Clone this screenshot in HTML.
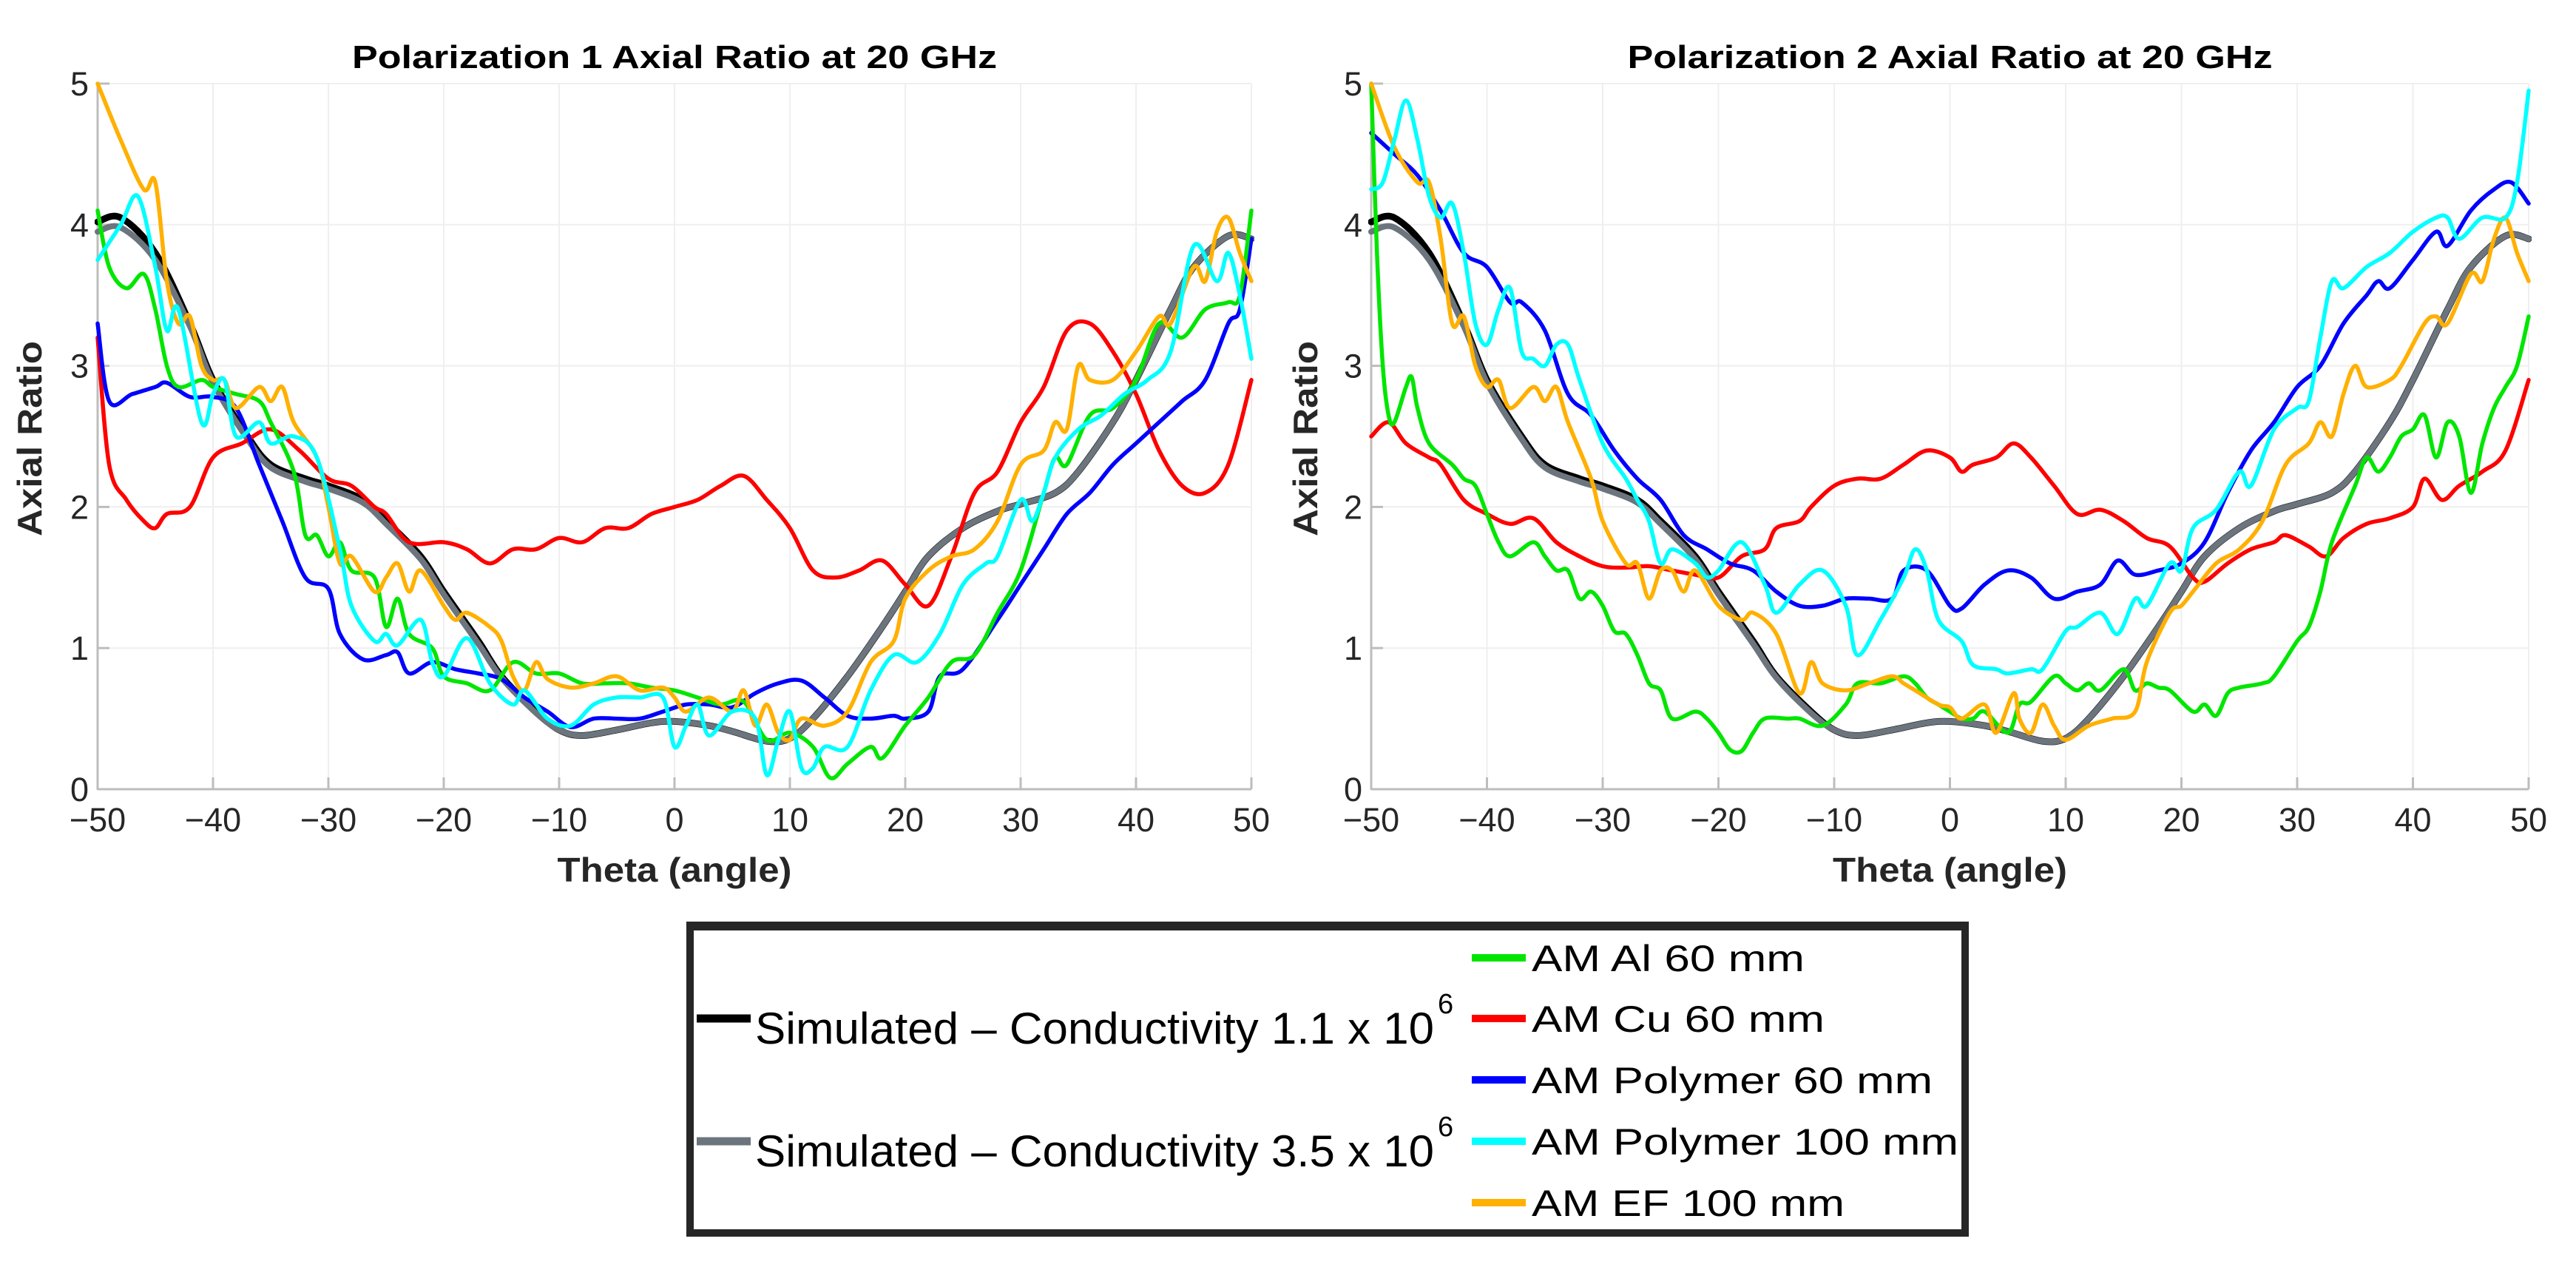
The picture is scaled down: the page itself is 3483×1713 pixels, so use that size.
<!DOCTYPE html>
<html><head><meta charset="utf-8">
<style>
html,body{margin:0;padding:0;background:#fff;}
svg{display:block;font-family:"Liberation Sans",Arial,sans-serif;}
</style></head>
<body>
<svg id="fig" width="3483" height="1713" viewBox="0 0 3483 1713" xmlns="http://www.w3.org/2000/svg">
<rect width="3483" height="1713" fill="#fff"/>
<g id="p1"></g>
<g id="p2"></g>
<g id="legend">
  <rect x="933" y="1252" width="1724" height="415" fill="#fff" stroke="#262626" stroke-width="10"/>
  <line x1="928" y1="1252" x2="2662" y2="1252" stroke="#262626" stroke-width="12"/>
  <g>
    <line x1="942" y1="1377" x2="1015" y2="1377" stroke="#000" stroke-width="11"/>
    <text x="1021" y="1411" font-size="60" fill="#000" textLength="918" lengthAdjust="spacingAndGlyphs">Simulated – Conductivity 1.1 x 10</text>
    <text x="1944" y="1370" font-size="38" fill="#000">6</text>
  </g>
  <g>
    <line x1="942" y1="1543" x2="1015" y2="1543" stroke="#6c757d" stroke-width="11"/>
    <text x="1021" y="1577" font-size="60" fill="#000" textLength="918" lengthAdjust="spacingAndGlyphs">Simulated – Conductivity 3.5 x 10</text>
    <text x="1944" y="1536" font-size="38" fill="#000">6</text>
  </g>
  <g>
    <line x1="1990" y1="1295" x2="2063" y2="1295" stroke="#00e600" stroke-width="10"/>
    <text x="2071" y="1313" font-size="50" fill="#000" textLength="369" lengthAdjust="spacingAndGlyphs">AM Al 60 mm</text>
  </g>
  <g>
    <line x1="1990" y1="1377" x2="2063" y2="1377" stroke="#ff0000" stroke-width="10"/>
    <text x="2071" y="1395" font-size="50" fill="#000" textLength="396" lengthAdjust="spacingAndGlyphs">AM Cu 60 mm</text>
  </g>
  <g>
    <line x1="1990" y1="1460" x2="2063" y2="1460" stroke="#0000ff" stroke-width="10"/>
    <text x="2071" y="1478" font-size="50" fill="#000" textLength="542" lengthAdjust="spacingAndGlyphs">AM Polymer 60 mm</text>
  </g>
  <g>
    <line x1="1990" y1="1543" x2="2063" y2="1543" stroke="#00ffff" stroke-width="10"/>
    <text x="2071" y="1561" font-size="50" fill="#000" textLength="577" lengthAdjust="spacingAndGlyphs">AM Polymer 100 mm</text>
  </g>
  <g>
    <line x1="1990" y1="1626" x2="2063" y2="1626" stroke="#ffb000" stroke-width="10"/>
    <text x="2071" y="1644" font-size="50" fill="#000" textLength="423" lengthAdjust="spacingAndGlyphs">AM EF 100 mm</text>
  </g>
</g>
</svg>
<script>
const xTicks = [-50,-40,-30,-20,-10,0,10,20,30,40,50];
const yTicks = [0,1,2,3,4,5];
const sim1 = [[-50,4.02],[-48,4.05],[-45,3.8],[-42,3.3],[-40,2.9],[-37,2.5],[-35,2.3],[-32,2.2],[-30,2.15],[-27,2.05],[-25,1.9],[-22,1.65],[-20,1.4],[-17,1.05],[-15,0.8],[-12,0.55],[-10,0.42],[-8,0.38],[-5,0.42],[-2,0.47],[0,0.48],[3,0.45],[5,0.41],[8,0.34],[10,0.36],[12,0.5],[15,0.8],[18,1.15],[20,1.4],[22,1.65],[25,1.85],[28,1.97],[30,2.02],[33,2.1],[35,2.25],[38,2.6],[40,2.9],[43,3.4],[45,3.7],[48,3.92],[50,3.9]];
const sim2 = [[-50,3.95],[-48,3.98],[-45,3.75],[-42,3.28],[-40,2.88],[-37,2.48],[-35,2.28],[-32,2.18],[-30,2.13],[-27,2.03],[-25,1.88],[-22,1.63],[-20,1.38],[-17,1.03],[-15,0.79],[-12,0.54],[-10,0.42],[-8,0.38],[-5,0.42],[-2,0.47],[0,0.48],[3,0.45],[5,0.41],[8,0.34],[10,0.36],[12,0.5],[15,0.8],[18,1.15],[20,1.4],[22,1.65],[25,1.85],[28,1.97],[30,2.02],[33,2.1],[35,2.25],[38,2.6],[40,2.9],[43,3.4],[45,3.7],[48,3.92],[50,3.9]];
const p1Cu = [[-50,3.2],[-49,2.3],[-47.5,2.05],[-46,1.9],[-45,1.85],[-44,1.95],[-42,2.0],[-40,2.35],[-37.5,2.45],[-35,2.55],[-32.5,2.4],[-30,2.2],[-28,2.15],[-26,2.0],[-25,1.95],[-23,1.75],[-20,1.75],[-18,1.7],[-16,1.6],[-14,1.7],[-12,1.7],[-10,1.78],[-8,1.75],[-6,1.85],[-4,1.85],[-2,1.95],[0,2.0],[2,2.05],[4,2.15],[6,2.22],[8,2.05],[10,1.85],[12,1.55],[14,1.5],[16,1.55],[18,1.62],[20,1.45],[22,1.3],[24,1.65],[26,2.1],[28,2.25],[30,2.6],[32,2.85],[34,3.25],[36,3.3],[38,3.1],[40,2.8],[42,2.4],[44,2.15],[46,2.1],[48,2.3],[50,2.9]];
const p1Poly60 = [[-50,3.3],[-49,2.75],[-47,2.8],[-45,2.85],[-44,2.88],[-42,2.78],[-40,2.78],[-38,2.7],[-36,2.3],[-34,1.9],[-32,1.5],[-30,1.42],[-29,1.1],[-27,0.92],[-25,0.95],[-24,0.97],[-23,0.82],[-21,0.9],[-19,0.85],[-17,0.82],[-15,0.78],[-13,0.65],[-11,0.55],[-9,0.44],[-7,0.5],[-5,0.5],[-3,0.5],[-1,0.55],[1,0.6],[3,0.6],[5,0.58],[7,0.68],[9,0.75],[11,0.77],[13,0.65],[15,0.52],[17,0.5],[19,0.52],[20,0.5],[22,0.55],[23,0.8],[25,0.85],[28,1.2],[30,1.45],[32,1.7],[34,1.95],[36,2.1],[38,2.3],[40,2.45],[42,2.6],[44,2.75],[46,2.9],[48,3.3],[49,3.4],[50,3.9]];
const p1Al = [[-50,4.1],[-49,3.7],[-47.5,3.55],[-46,3.65],[-45,3.4],[-44,3.0],[-43,2.85],[-41,2.9],[-40,2.85],[-38,2.8],[-36,2.75],[-35,2.6],[-33,2.25],[-32,1.8],[-31,1.8],[-30,1.65],[-29,1.75],[-28,1.55],[-26,1.5],[-25,1.15],[-24,1.35],[-23,1.1],[-21,1.0],[-20,0.8],[-18,0.75],[-16,0.7],[-14,0.9],[-12,0.82],[-10,0.82],[-8,0.75],[-6,0.75],[-4,0.75],[-2,0.72],[0,0.7],[2,0.65],[4,0.6],[6,0.62],[8,0.35],[10,0.4],[12,0.3],[13.5,0.08],[15,0.18],[17,0.3],[18,0.22],[20,0.45],[22,0.65],[24,0.9],[26,0.95],[28,1.25],[30,1.55],[32,2.1],[33,2.35],[34,2.3],[36,2.65],[38,2.7],[40,2.9],[42,3.3],[44,3.2],[46,3.4],[48,3.45],[49,3.5],[50,4.1]];
const p1Poly100 = [[-50,3.75],[-48,4.0],[-46.5,4.2],[-45,3.7],[-44,3.25],[-43,3.4],[-41,2.6],[-40,2.8],[-39,2.9],[-38,2.5],[-36,2.6],[-35,2.45],[-33,2.5],[-31,2.35],[-29,1.7],[-28,1.3],[-26,1.05],[-25,1.1],[-24,1.02],[-22,1.2],[-21,0.9],[-20,0.8],[-18,1.07],[-16,0.75],[-14,0.6],[-13,0.7],[-11,0.5],[-9,0.45],[-7,0.6],[-5,0.65],[-3,0.65],[-1,0.65],[0,0.3],[1,0.45],[2,0.6],[3,0.38],[5,0.55],[7,0.5],[8,0.1],[9,0.35],[10,0.55],[11,0.15],[12,0.15],[13,0.3],[15,0.3],[17,0.7],[19,0.95],[21,0.9],[23,1.1],[25,1.45],[27,1.6],[28,1.65],[30,2.05],[31,1.9],[32,2.1],[33,2.35],[35,2.55],[37,2.65],[39,2.8],[41,2.9],[43,3.1],[45,3.85],[47,3.6],[48,3.8],[49,3.5],[50,3.05]];
const p1EF = [[-50,5.0],[-48,4.6],[-46,4.25],[-45,4.3],[-44,3.6],[-43,3.3],[-42,3.35],[-41,3.0],[-40,2.9],[-39,2.9],[-38,2.7],[-36,2.85],[-35,2.75],[-34,2.85],[-33,2.6],[-31,2.35],[-30,2.0],[-29,1.6],[-28,1.65],[-26,1.4],[-25,1.5],[-24,1.6],[-23,1.4],[-22,1.55],[-20,1.3],[-19,1.2],[-18,1.25],[-16,1.15],[-15,1.05],[-14,0.8],[-13,0.7],[-12,0.9],[-11,0.78],[-9,0.72],[-7,0.75],[-5,0.8],[-3,0.7],[-1,0.72],[0,0.65],[1,0.55],[3,0.65],[5,0.55],[6,0.7],[7,0.45],[8,0.6],[9,0.4],[10,0.35],[11,0.5],[13,0.45],[15,0.55],[17,0.9],[19,1.05],[20,1.35],[22,1.55],[24,1.65],[26,1.7],[28,1.9],[30,2.3],[32,2.4],[33,2.6],[34,2.55],[35,3.0],[36,2.9],[38,2.9],[40,3.1],[42,3.35],[43,3.3],[45,3.7],[46,3.6],[47,3.95],[48,4.05],[49,3.8],[50,3.6]];
const p2Cu = [[-50,2.5],[-48.5,2.6],[-47,2.45],[-45,2.35],[-44,2.3],[-42,2.05],[-40,1.95],[-38,1.88],[-36,1.92],[-34,1.75],[-32,1.65],[-30,1.58],[-28,1.57],[-26,1.58],[-24,1.55],[-22,1.52],[-20,1.5],[-18,1.65],[-16,1.7],[-15,1.85],[-13,1.9],[-12,2.0],[-10,2.15],[-8,2.2],[-6,2.2],[-4,2.3],[-2,2.4],[0,2.35],[1,2.25],[2,2.3],[4,2.35],[5.5,2.45],[7,2.35],[9,2.15],[11,1.95],[13,1.98],[15,1.9],[17,1.78],[19,1.72],[21,1.5],[22,1.47],[24,1.6],[26,1.7],[28,1.75],[29,1.8],[31,1.72],[32.5,1.65],[34,1.78],[36,1.88],[38,1.92],[40,2.0],[41,2.2],[42.5,2.05],[44,2.15],[46,2.25],[48,2.4],[50,2.9]];
const p2Poly60 = [[-50,4.65],[-48,4.5],[-46,4.35],[-44,4.1],[-42,3.8],[-40,3.7],[-38,3.45],[-37,3.45],[-35,3.25],[-33,2.8],[-31,2.65],[-29,2.4],[-27,2.2],[-25,2.05],[-23,1.8],[-21,1.7],[-19,1.6],[-17,1.55],[-15,1.4],[-13,1.3],[-11,1.3],[-9,1.35],[-7,1.35],[-5,1.35],[-4,1.55],[-2,1.55],[0,1.3],[1,1.28],[3,1.45],[5,1.55],[7,1.5],[9,1.35],[11,1.4],[13,1.45],[14.5,1.62],[16,1.52],[18,1.55],[20,1.6],[22,1.75],[24,2.1],[26,2.4],[28,2.6],[30,2.85],[32,3.0],[34,3.3],[36,3.5],[37,3.6],[38,3.55],[40,3.75],[42,3.95],[43,3.85],[45,4.1],[47,4.25],[48.5,4.3],[50,4.15]];
const p2Poly100 = [[-50,4.25],[-49,4.3],[-48,4.6],[-47,4.88],[-46,4.6],[-45,4.2],[-44,4.05],[-43,4.15],[-42,3.8],[-41,3.3],[-40,3.15],[-39,3.4],[-38,3.55],[-37,3.1],[-36,3.05],[-35,3.0],[-34,3.15],[-33,3.15],[-32,2.9],[-30,2.45],[-28,2.2],[-27,2.05],[-26,1.9],[-25,1.6],[-24,1.7],[-22,1.6],[-21,1.5],[-20,1.55],[-18,1.75],[-16,1.45],[-15,1.25],[-13,1.45],[-11,1.55],[-9,1.3],[-8,0.95],[-6,1.2],[-4,1.5],[-3,1.7],[-2,1.55],[-1,1.2],[1,1.05],[2,0.88],[4,0.85],[5,0.82],[7,0.85],[8,0.85],[10,1.12],[11,1.15],[13,1.25],[14.5,1.1],[16,1.35],[17,1.3],[19,1.6],[20,1.55],[21,1.85],[23,1.98],[25,2.25],[26,2.15],[28,2.55],[30,2.7],[31,2.75],[32,3.2],[33,3.6],[34,3.55],[36,3.7],[38,3.8],[40,3.95],[42,4.05],[43,4.05],[44,3.9],[46,4.05],[48,4.05],[49,4.3],[50,4.95]];
const p2EF = [[-50,5.0],[-48,4.55],[-46,4.3],[-45,4.3],[-44,3.9],[-43,3.3],[-42,3.35],[-41,3.0],[-40,2.85],[-39,2.9],[-38,2.7],[-36,2.85],[-35,2.75],[-34,2.85],[-33,2.6],[-31,2.2],[-30,1.9],[-28,1.6],[-27,1.6],[-26,1.35],[-25,1.55],[-24,1.55],[-23,1.4],[-22,1.55],[-20,1.3],[-18,1.2],[-17,1.25],[-15,1.1],[-13,0.68],[-12,0.9],[-11,0.75],[-9,0.7],[-7,0.75],[-5,0.8],[-4,0.75],[-3,0.7],[-1,0.6],[0,0.58],[1,0.5],[3,0.6],[4,0.4],[5.5,0.68],[6,0.5],[7,0.4],[8,0.6],[9,0.45],[10,0.35],[12,0.45],[14,0.5],[16,0.55],[17,0.9],[19,1.25],[20,1.3],[21,1.4],[23,1.6],[25,1.7],[27,1.9],[29,2.3],[31,2.45],[32,2.6],[33,2.5],[34,2.8],[35,3.0],[36,2.85],[38,2.9],[39,3.0],[41,3.3],[42,3.35],[43,3.3],[45,3.65],[46,3.6],[47,3.9],[48,4.05],[49,3.8],[50,3.6]];
const p2Al = [[-50,5.0],[-49.5,3.8],[-49,3.0],[-48.5,2.65],[-48,2.6],[-47,2.85],[-46.5,2.92],[-46,2.7],[-45,2.45],[-43,2.3],[-42,2.2],[-41,2.15],[-40,1.95],[-39,1.75],[-38,1.65],[-36,1.75],[-35,1.65],[-34,1.55],[-33,1.55],[-32,1.35],[-31,1.4],[-30,1.3],[-29,1.12],[-28,1.1],[-27,0.95],[-26,0.75],[-25,0.7],[-24,0.5],[-22,0.55],[-21,0.5],[-20,0.4],[-19,0.28],[-18,0.27],[-17,0.4],[-16,0.5],[-14,0.5],[-13,0.5],[-11,0.45],[-9,0.6],[-8,0.75],[-6,0.75],[-4,0.8],[-3,0.75],[-2,0.65],[-1,0.6],[0,0.55],[1,0.5],[2,0.5],[3,0.55],[5,0.4],[6,0.6],[7,0.62],[9,0.8],[10,0.75],[11,0.7],[12,0.75],[13,0.7],[15,0.85],[16,0.7],[17,0.75],[18,0.72],[19,0.7],[21,0.55],[22,0.6],[23,0.52],[24,0.68],[25,0.72],[27,0.75],[28,0.8],[30,1.05],[31,1.15],[32,1.4],[33,1.75],[35,2.15],[36,2.35],[37,2.25],[38,2.35],[39,2.5],[40,2.55],[41,2.65],[42,2.35],[43,2.6],[44,2.5],[45,2.1],[46,2.45],[47,2.7],[48,2.85],[49,3.0],[50,3.35]];

const NS = "http://www.w3.org/2000/svg";
function mk(tag, attrs, parent){const e=document.createElementNS(NS,tag);for(const k in attrs)e.setAttribute(k,attrs[k]);parent.appendChild(e);return e;}

function smoothPath(pts){
  let d = "M"+pts[0][0].toFixed(1)+","+pts[0][1].toFixed(1);
  for(let i=0;i<pts.length-1;i++){
    const p0=pts[Math.max(0,i-1)],p1=pts[i],p2=pts[i+1],p3=pts[Math.min(pts.length-1,i+2)];
    const c1x=p1[0]+(p2[0]-p0[0])/6,c1y=p1[1]+(p2[1]-p0[1])/6;
    const c2x=p2[0]-(p3[0]-p1[0])/6,c2y=p2[1]-(p3[1]-p1[1])/6;
    d+=" C"+c1x.toFixed(1)+","+c1y.toFixed(1)+" "+c2x.toFixed(1)+","+c2y.toFixed(1)+" "+p2[0].toFixed(1)+","+p2[1].toFixed(1);
  }
  return d;
}

function panel(gid, x0, x1, title, series, ylabX){
  const g=document.getElementById(gid);
  const y0=1067, yTop=113;
  const sx=v=>x0+(v+50)/100*(x1-x0);
  const sy=v=>y0-v/5*(y0-yTop);
  const grid=mk("g",{},g);
  
  
  xTicks.forEach(t=>{ if(t>-50) mk("line",{x1:sx(t),y1:yTop,x2:sx(t),y2:y0,stroke:"#efefef","stroke-width":2},grid); });
  yTicks.forEach(t=>{ if(t>0) mk("line",{x1:x0,y1:sy(t),x2:x1,y2:sy(t),stroke:"#efefef","stroke-width":2},grid); });
  const ax=mk("g",{},g);
  
  
  mk("line",{x1:x0,y1:yTop,x2:x0,y2:y0+1,stroke:"#bdbdbd","stroke-width":3},ax);
  mk("line",{x1:x0,y1:y0,x2:x1,y2:y0,stroke:"#bdbdbd","stroke-width":3},ax);
  xTicks.forEach(t=>{
    mk("line",{x1:sx(t),y1:y0,x2:sx(t),y2:y0-16,stroke:"#bdbdbd","stroke-width":3},ax);
    const tx=mk("text",{x:sx(t),y:1124,"font-size":45,fill:"#262626","text-anchor":"middle"},ax);
    tx.textContent=(t<0?"\u2212":"")+Math.abs(t);
    
    
  });
  yTicks.forEach(t=>{
    mk("line",{x1:x0,y1:sy(t),x2:x0+16,y2:sy(t),stroke:"#bdbdbd","stroke-width":3},ax);
    const tx=mk("text",{x:x0-12,y:sy(t)+16,"font-size":45,fill:"#262626","text-anchor":"end"},ax);
    tx.textContent=t;
    
    
  });
  const tt=mk("text",{x:(x0+x1)/2,y:92,"font-size":44,"font-weight":"bold",fill:"#000","text-anchor":"middle",textLength:872,lengthAdjust:"spacingAndGlyphs"},g);
  tt.textContent=title;
  
  
  const xl=mk("text",{x:(x0+x1)/2,y:1192,"font-size":46,"font-weight":"bold",fill:"#262626","text-anchor":"middle",textLength:317,lengthAdjust:"spacingAndGlyphs"},g);
  xl.textContent="Theta (angle)";
  
  
  const yl=mk("text",{x:0,y:0,"font-size":46,"font-weight":"bold",fill:"#262626","text-anchor":"middle",textLength:264,lengthAdjust:"spacingAndGlyphs",transform:"translate("+ylabX+",593) rotate(-90)"},g);
  yl.textContent="Axial Ratio";
  
  
  const clip=mk("clipPath",{id:gid+"clip"},g);
  mk("rect",{x:x0-4,y:yTop-4,width:x1-x0+8,height:y0-yTop+8},clip);
  const lines=mk("g",{"clip-path":"url(#"+gid+"clip)"},g);
  series.forEach(s=>{
    const p=mk("path",{d:smoothPath(s.data.map(d=>[sx(d[0]),sy(d[1])])),fill:"none",stroke:s.color,"stroke-width":s.w,"stroke-linejoin":"round","stroke-linecap":"round"},lines);
    
    
  });
}

panel("p1",132,1692,"Polarization 1 Axial Ratio at 20 GHz",[
  {data:sim1,color:"#000000",w:9,name:"sim-1-1-line"},
  {data:sim2,color:"#6c757d",w:8,name:"sim-3-5-line"},
  {data:p1Cu,color:"#ff0000",w:5.5,name:"am-cu-60-line"},
  {data:p1Poly60,color:"#0000ff",w:5.5,name:"am-polymer-60-line"},
  {data:p1Al,color:"#00e600",w:5.5,name:"am-al-60-line"},
  {data:p1EF,color:"#ffb000",w:5.5,name:"am-ef-100-line"},
  {data:p1Poly100,color:"#00ffff",w:5.5,name:"am-polymer-100-line"}
],56);
panel("p2",1854,3419,"Polarization 2 Axial Ratio at 20 GHz",[
  {data:sim1,color:"#000000",w:9,name:"sim-1-1-line"},
  {data:sim2,color:"#6c757d",w:8,name:"sim-3-5-line"},
  {data:p2Cu,color:"#ff0000",w:5.5,name:"am-cu-60-line"},
  {data:p2Poly60,color:"#0000ff",w:5.5,name:"am-polymer-60-line"},
  {data:p2Al,color:"#00e600",w:5.5,name:"am-al-60-line"},
  {data:p2EF,color:"#ffb000",w:5.5,name:"am-ef-100-line"},
  {data:p2Poly100,color:"#00ffff",w:5.5,name:"am-polymer-100-line"}
],1781);
</script>
</body></html>
